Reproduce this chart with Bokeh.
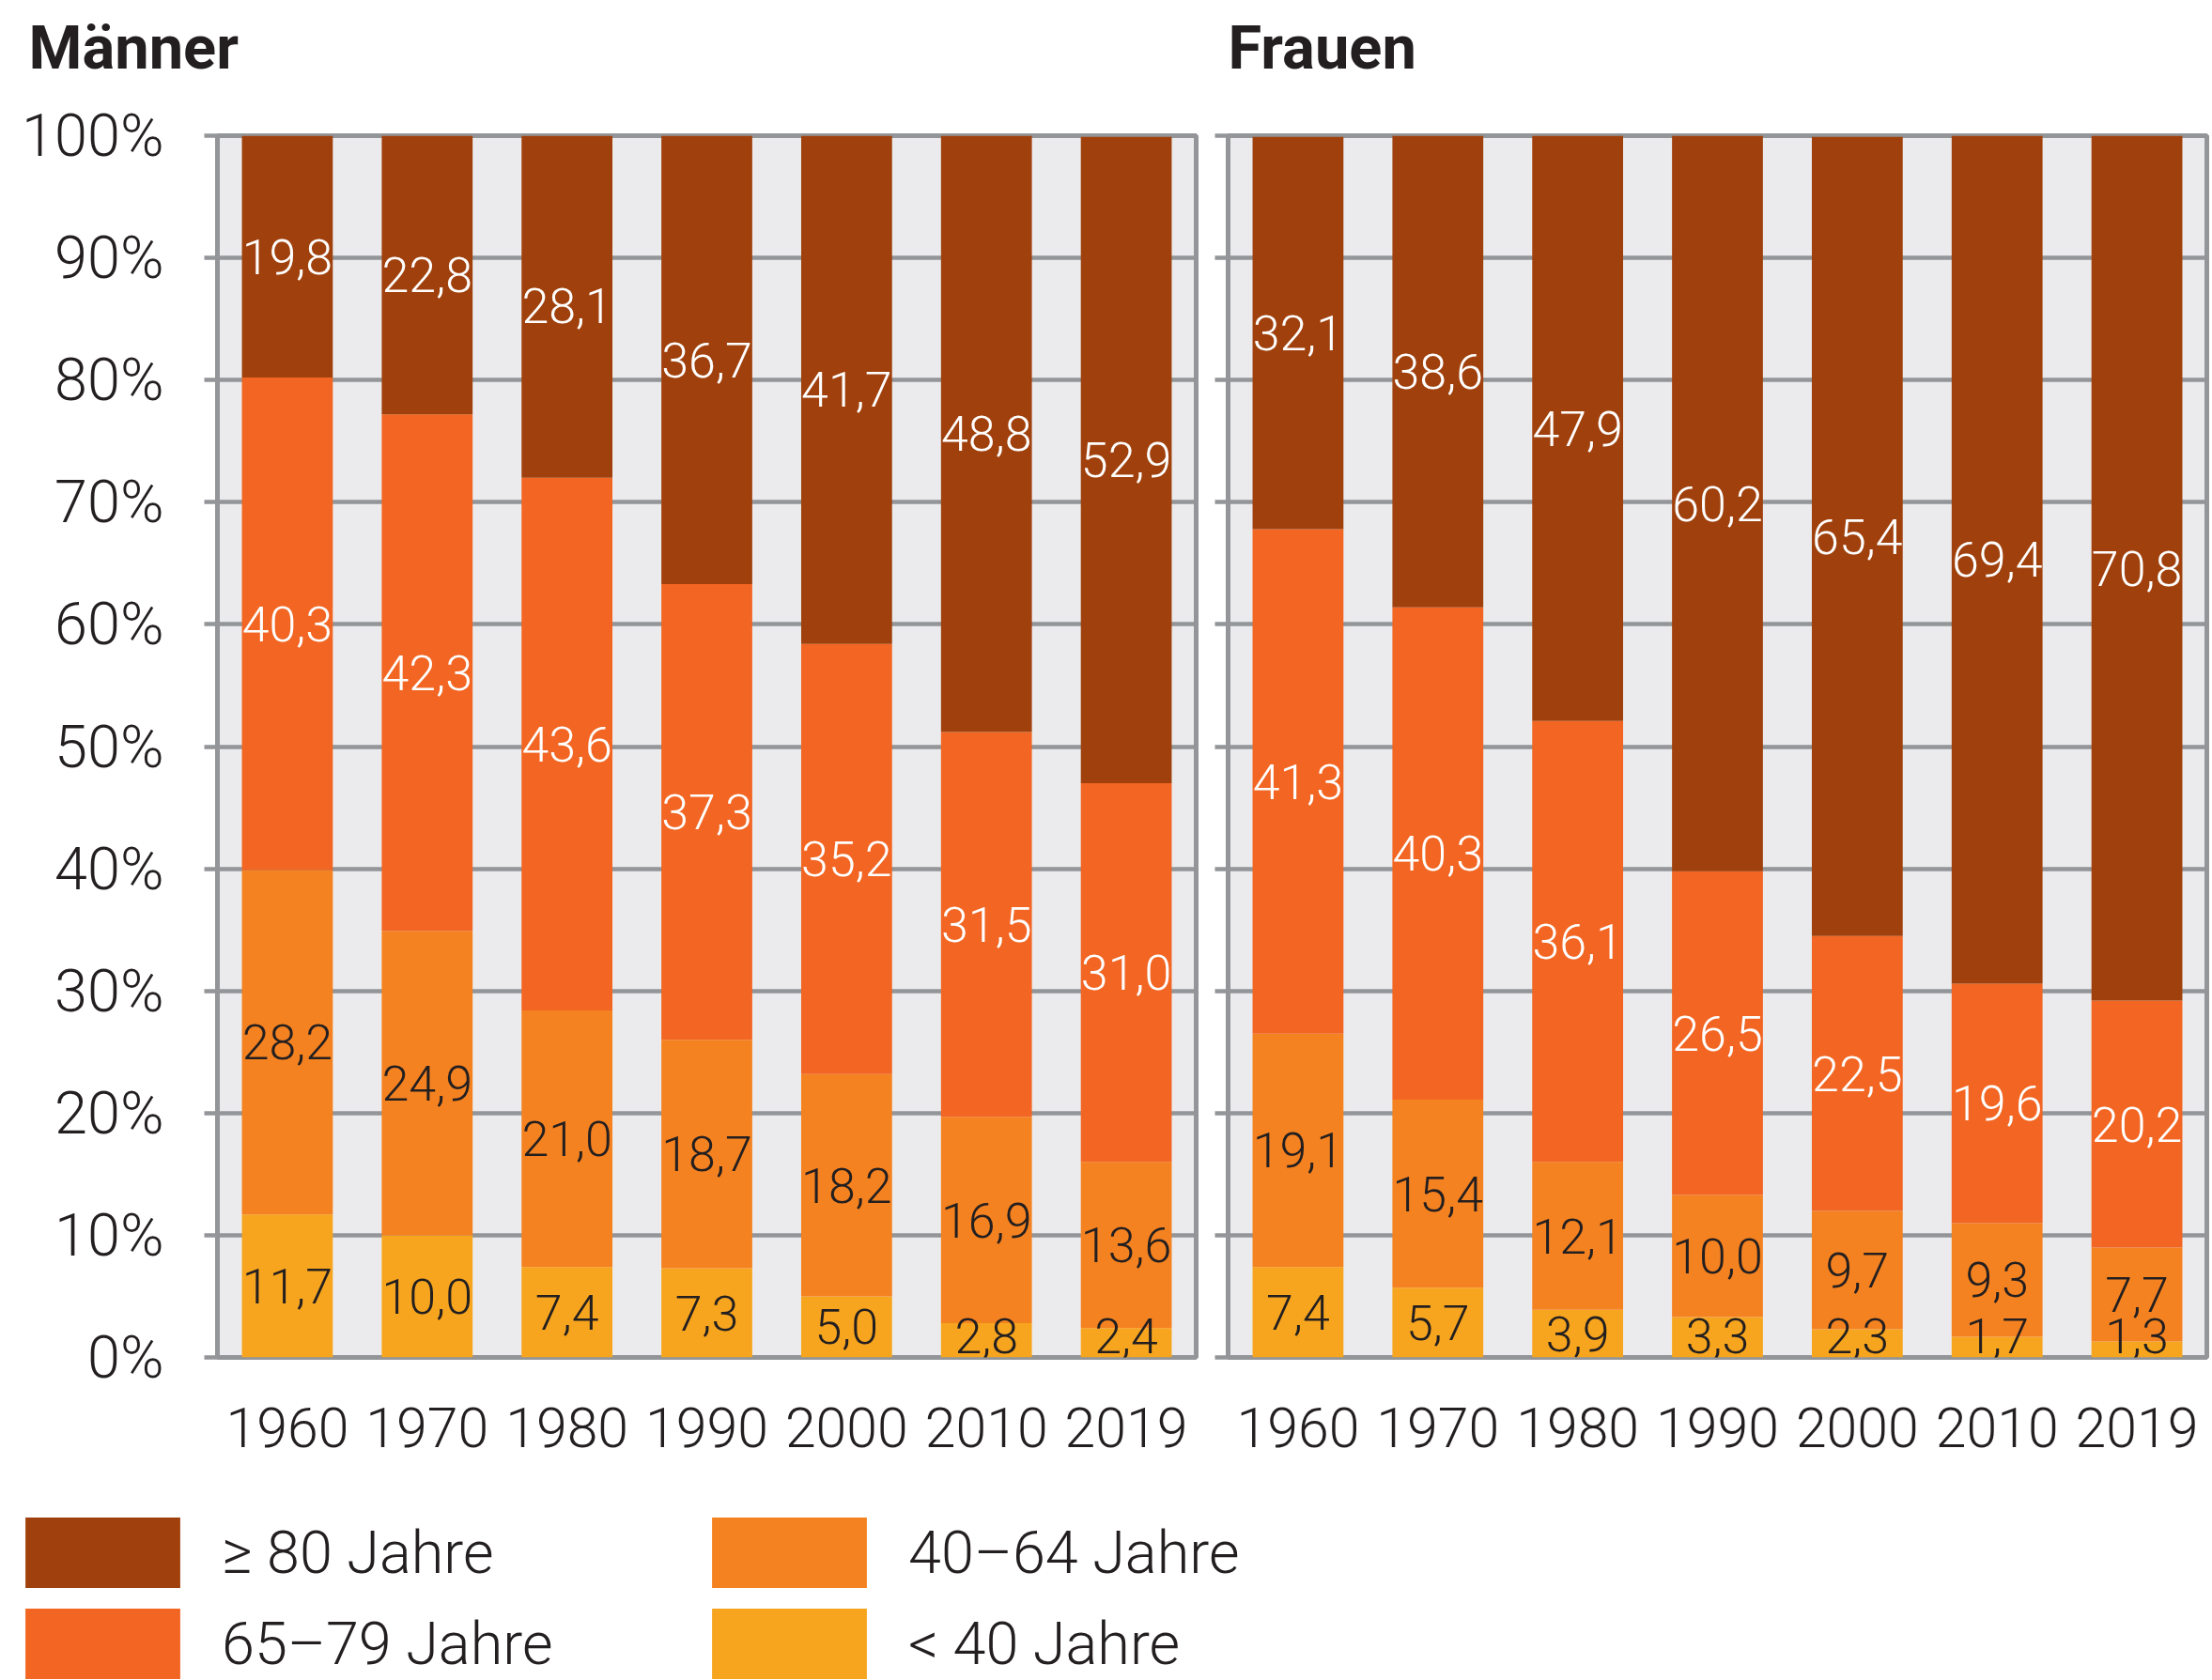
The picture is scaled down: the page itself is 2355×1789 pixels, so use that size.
from bokeh.plotting import figure
from bokeh.models import (ColumnDataSource, FactorRange, FixedTicker, PrintfTickFormatter,
                          Legend, LegendItem, Range1d)
from bokeh.layouts import column, row
from bokeh.embed import file_html
from bokeh.resources import INLINE
from bokeh.core.properties import value

# ---------------- data ----------------
years = ["1960", "1970", "1980", "1990", "2000", "2010", "2019"]
groups = ["lt40", "a40_64", "a65_79", "ge80"]
legend_labels = ["≥ 80 Jahre", "65–79 Jahre", "40–64 Jahre", "< 40 Jahre"]
panel_titles = ["Männer", "Frauen"]

m_lt40 = [11.7, 10.0, 7.4, 7.3, 5.0, 2.8, 2.4]
m_40_64 = [28.2, 24.9, 21.0, 18.7, 18.2, 16.9, 13.6]
m_65_79 = [40.3, 42.3, 43.6, 37.3, 35.2, 31.5, 31.0]
m_80 = [19.8, 22.8, 28.1, 36.7, 41.7, 48.8, 52.9]

f_lt40 = [7.4, 5.7, 3.9, 3.3, 2.3, 1.7, 1.3]
f_40_64 = [19.1, 15.4, 12.1, 10.0, 9.7, 9.3, 7.7]
f_65_79 = [41.3, 40.3, 36.1, 26.5, 22.5, 19.6, 20.2]
f_80 = [32.1, 38.6, 47.9, 60.2, 65.4, 69.4, 70.8]

y_ticks = [0, 10, 20, 30, 40, 50, 60, 70, 80, 90, 100]

# ---------------- style ----------------
COLORS = {"lt40": "#F7A51E", "a40_64": "#F58220", "a65_79": "#F26522", "ge80": "#A0410D"}
LABEL_COLORS = {"lt40": "#231F20", "a40_64": "#231F20", "a65_79": "#FFFFFF", "ge80": "#FFFFFF"}
GRAY = "#939598"
BG = "#EBEBED"
DARK = "#231F20"
LIGHT_FONT = "Roboto Light"
LIGHT_FONT_VALUE = value(LIGHT_FONT)

HEAD_H = 104
FRAME_H = 1301
TOP = 40
BOTTOM = 145
FIG_H = TOP + FRAME_H + BOTTOM
MIN_LABEL_Y = 1.8

W_L, W_R = 1283, 1072


def make_header(text, width, offset):
    h = figure(width=width, height=HEAD_H, x_range=Range1d(0, 1), y_range=Range1d(0, 1),
               x_axis_location=None, y_axis_location=None, min_border=0,
               toolbar_location=None, output_backend="svg", title=text)
    h.grid.grid_line_color = None
    h.outline_line_color = None
    h.title.text_font = "Roboto"
    h.title.text_font_style = "bold"
    h.title.text_font_size = "65px"
    h.title.text_color = DARK
    h.title.align = "left"
    h.title.offset = offset
    h.title.standoff = 20
    return h


def make_panel(data, width, min_left, min_right, show_labels):
    p = figure(x_range=FactorRange(factors=years, range_padding=0),
               y_range=Range1d(0, 100),
               width=width, height=FIG_H,
               min_border_left=min_left, min_border_right=min_right,
               min_border_top=TOP, min_border_bottom=BOTTOM,
               toolbar_location=None, output_backend="svg",
               background_fill_color=BG, border_fill_color="white")

    src = ColumnDataSource(dict(years=years, **data))
    p.vbar_stack(groups, x="years", width=0.65, source=src,
                 color=[COLORS[g] for g in groups], line_color=None)

    # labels at the middle of each segment
    lx, ly, lt, lc = [], [], [], []
    for i, yr in enumerate(years):
        bottom = 0.0
        for g in groups:
            v = data[g][i]
            lx.append(yr)
            ly.append(max(bottom + v / 2.0, MIN_LABEL_Y))
            lt.append(f"{v:.1f}".replace(".", ","))
            lc.append(LABEL_COLORS[g])
            bottom += v
    lsrc = ColumnDataSource(dict(x=lx, y=ly, t=lt, c=lc))
    p.text(x="x", y="y", text="t", text_color="c", source=lsrc,
           text_align="center", text_baseline="middle",
           text_font=LIGHT_FONT_VALUE, text_font_size="52px")

    p.xgrid.grid_line_color = None
    p.ygrid.ticker = FixedTicker(ticks=y_ticks)
    p.ygrid.grid_line_color = GRAY
    p.ygrid.grid_line_width = 4.5

    p.outline_line_color = GRAY
    p.outline_line_width = 5
    p.outline_line_alpha = 1.0

    p.yaxis.ticker = FixedTicker(ticks=y_ticks)
    p.yaxis.formatter = PrintfTickFormatter(format="%d%%")
    p.yaxis.axis_line_color = GRAY
    p.yaxis.axis_line_width = 5
    p.yaxis.major_tick_out = 14
    p.yaxis.major_tick_in = 0
    p.yaxis.major_tick_line_color = GRAY
    p.yaxis.major_tick_line_width = 4.5
    p.yaxis.minor_tick_line_color = None
    p.yaxis.major_label_text_font = LIGHT_FONT
    p.yaxis.major_label_text_color = DARK
    p.yaxis.major_label_text_font_size = "63px"
    if show_labels:
        p.yaxis.major_label_standoff = 43
    else:
        p.yaxis.major_label_overrides = {t: "" for t in y_ticks}
        p.yaxis.major_label_standoff = 0

    p.xaxis.axis_line_color = None
    p.xaxis.major_tick_line_color = None
    p.xaxis.minor_tick_line_color = None
    p.xaxis.major_label_text_font = LIGHT_FONT
    p.xaxis.major_label_text_font_size = "59px"
    p.xaxis.major_label_text_color = DARK
    p.xaxis.major_label_standoff = 47
    return p


men = dict(lt40=m_lt40, a40_64=m_40_64, a65_79=m_65_79, ge80=m_80)
women = dict(lt40=f_lt40, a40_64=f_40_64, a65_79=f_65_79, ge80=f_80)

hL = make_header(panel_titles[0], W_L, 30)
hR = make_header(panel_titles[1], W_R, 24)
pL = make_panel(men, W_L, 231, 10, True)
pR = make_panel(women, W_R, 24, 6, False)

# ---------------- legend ----------------
LEG_H = 1789 - HEAD_H - FIG_H
pLeg = figure(width=W_L + W_R, height=LEG_H, x_range=Range1d(0, 1), y_range=Range1d(0, 1),
              x_axis_location=None, y_axis_location=None,
              min_border=0, toolbar_location=None, output_backend="svg")
pLeg.grid.grid_line_color = None
pLeg.outline_line_color = None

order = ["ge80", "a65_79", "a40_64", "lt40"]
items = []
for g, lab in zip(order, legend_labels):
    # zero-size helper bar: only its legend swatch is visible
    r = pLeg.vbar(x=[0], top=[0], bottom=[0], width=0, fill_color=COLORS[g], line_color=None)
    items.append(LegendItem(label=lab, renderers=[r]))

GW, GH, SP = 206, 94, 3
leg_height = 2 * GH + SP
leg = Legend(items=items, location=(6, LEG_H - 16 - leg_height), orientation="vertical", nrows=2,
             glyph_width=GW, glyph_height=GH, label_standoff=24, label_width=731 - GW - 24 - SP,
             spacing=SP, padding=0, margin=0, border_line_color=None,
             background_fill_alpha=0, label_text_font=LIGHT_FONT,
             label_text_font_size="63px", label_text_color=DARK,
             label_text_baseline="middle")
pLeg.add_layout(leg)

layout = column(row(hL, hR), row(pL, pR), pLeg)
open("out.html", "w").write(file_html(layout, INLINE))
